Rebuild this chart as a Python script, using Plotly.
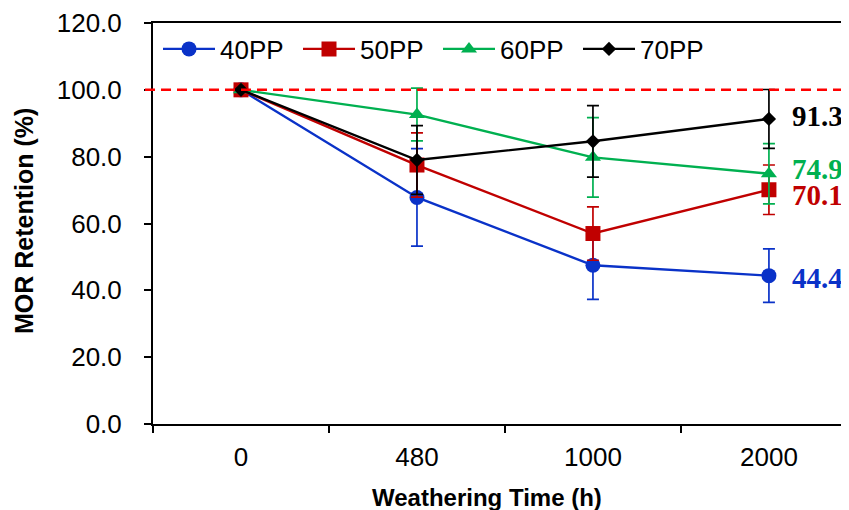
import plotly.graph_objects as go

categories = ["0", "480", "1000", "2000"]
series_names = ["40PP", "50PP", "60PP", "70PP"]
ret_40 = [100.0, 67.8, 47.5, 44.4]
err_40 = [0.0, 14.6, 10.2, 8.0]
ret_50 = [100.0, 77.5, 57.0, 70.1]
err_50 = [0.0, 9.6, 8.0, 7.4]
ret_60 = [100.0, 92.6, 79.8, 74.9]
err_60 = [0.0, 7.9, 11.9, 9.0]
ret_70 = [100.0, 79.0, 84.6, 91.3]
err_70 = [0.0, 10.3, 10.7, 8.8]
reference_level = 100.0
y_ticks = [0, 20, 40, 60, 80, 100, 120]
x_title = "Weathering Time (h)"
y_title = "MOR Retention (%)"

colors = ["#0A32C8", "#C00000", "#00B050", "#000000"]
symbols = ["circle", "square", "triangle-up", "diamond"]
sizes = [15, 15, 14, 11]
values = [ret_40, ret_50, ret_60, ret_70]
errors = [err_40, err_50, err_60, err_70]
label_shift = [-2, -5, 5, 3]

OFF = 8  # page body margin offset
W, H = 849 - OFF, 510 - OFF
L, R, T = 153 - OFF, 0, 23 - OFF
ph = 401
B = H - T - ph
pw = W - L - R


def px_x(x):
    return (x - OFF - L) / pw


def px_y(y):
    return ((T + ph) - (y - OFF)) / ph


fig = go.Figure()
for name, v, e, c, s, sz in zip(series_names, values, errors, colors, symbols, sizes):
    fig.add_trace(go.Scatter(
        x=categories, y=v, name=name, mode="lines+markers",
        line=dict(color=c, width=2.4),
        marker=dict(color=c, symbol=s, size=sz),
        error_y=dict(type="data", array=e, visible=True, color=c, thickness=1.7, width=6),
    ))

fig.add_shape(type="line", xref="paper", yref="y", x0=-8 / pw, x1=1,
              y0=reference_level, y1=reference_level, layer="above",
              line=dict(color="#FF0000", width=2.5, dash="10px,6px"))

last_idx = len(categories) - 1
for name, v, c, sh in zip(series_names, values, colors, label_shift):
    fig.add_annotation(x=last_idx, y=v[-1], text=f"<b>{v[-1]:.1f}</b>",
                       xref="x", yref="y", xanchor="left", yanchor="middle",
                       xshift=21, yshift=sh, showarrow=False,
                       font=dict(family="Liberation Serif", size=29, color=c))

fig.add_annotation(text=f"<b>{x_title}</b>", xref="paper", yref="paper",
                   x=px_x(487), y=px_y(497),
                   xanchor="center", yanchor="middle", showarrow=False,
                   font=dict(family="Liberation Sans", size=24, color="black"))
fig.add_annotation(text=f"<b>{y_title}</b>", xref="paper", yref="paper",
                   x=px_x(24), y=px_y(221), textangle=-90,
                   xanchor="center", yanchor="middle", showarrow=False,
                   font=dict(family="Liberation Sans", size=25, color="black"))

fig.update_layout(
    width=W, height=H,
    margin=dict(l=L, r=R, t=T, b=B),
    paper_bgcolor="white", plot_bgcolor="white",
    font=dict(family="Liberation Sans", size=26, color="black"),
    showlegend=True,
    legend=dict(orientation="h", x=px_x(158), y=px_y(49),
                xanchor="left", yanchor="middle",
                bgcolor="rgba(0,0,0,0)", font=dict(size=26), itemwidth=52,
                entrywidthmode="pixels", entrywidth=73),
)
fig.update_xaxes(
    type="category", categoryorder="array", categoryarray=categories,
    range=[-0.5, 3.455], tickson="boundaries", automargin=False,
    showline=True, linecolor="black", linewidth=2, mirror=True,
    ticks="outside", ticklen=7, tickwidth=2, tickcolor="black",
    showgrid=False, zeroline=False,
    tickfont=dict(size=26), ticklabelstandoff=9,
)
fig.update_yaxes(
    range=[0, 120], tickvals=y_ticks, tickformat=".1f", automargin=False,
    showline=True, linecolor="black", linewidth=2,
    ticks="outside", ticklen=7, tickwidth=2, tickcolor="black",
    showgrid=False, zeroline=False,
    tickfont=dict(size=26), ticklabelstandoff=17,
)

fig.write_html("out.html")
